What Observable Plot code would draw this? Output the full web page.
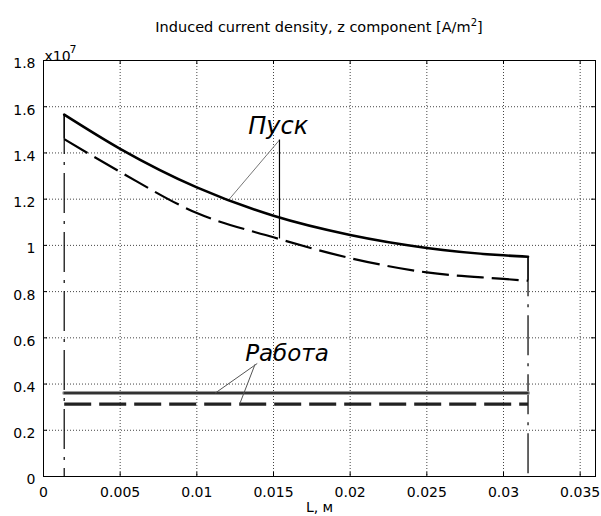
<!DOCTYPE html>
<html>
<head>
<meta charset="utf-8">
<script src="https://cdn.jsdelivr.net/npm/d3@7"></script>
<script src="https://cdn.jsdelivr.net/npm/@observablehq/plot@0.6"></script>
<style>
  body { margin: 0; background: #fff; }
  #wrap { width: 601px; height: 516px; background: #fff; }
  #title {
    box-sizing: border-box; width: 601px; height: 40px;
    padding-top: 19px; padding-left: 37px;
    font: 14.5px/16px "DejaVu Sans", sans-serif; color: #000;
    text-align: center; white-space: nowrap;
  }
  #title sup { font-size: 10px; vertical-align: 6px; line-height: 0; }
</style>
</head>
<body>
<div id="wrap">
  <div id="title">Induced current density, z component [A/m<sup>2</sup>]</div>
  <div id="chart"></div>
</div>
<script>
// ---- data (values in units of 1e7 A/m^2) ----
const L          = [0.00135, 0.005, 0.01, 0.015, 0.02, 0.025, 0.03, 0.0316];
const puskSolid  = [1.566, 1.418, 1.251, 1.128, 1.045, 0.989, 0.957, 0.951];
const puskDash   = [1.460, 1.318, 1.140, 1.035, 0.945, 0.883, 0.855, 0.847];
const rabotaL     = [0.00135, 0.0316];
const rabotaSolid = [0.361, 0.361];
const rabotaDash  = [0.313, 0.313];

const xTicks = [0, 0.005, 0.01, 0.015, 0.02, 0.025, 0.03, 0.035];
const xTickLabels = ["0", "0.005", "0.01", "0.015", "0.02", "0.025", "0.03", "0.035"];
const yTicks = [0, 0.2, 0.4, 0.6, 0.8, 1, 1.2, 1.4, 1.6, 1.8];
const yTickLabels = ["0", "0.2", "0.4", "0.6", "0.8", "1", "1.2", "1.4", "1.6", "1.8"];

// annotations
const labelPusk = "Пуск";
const labelRabota = "Работа";
const puskLabelPos = {x: 0.01531, y: 1.515};
const rabotaLabelPos = {x: 0.01588, y: 0.530};
const puskLeaders = [{x1: 0.01539, y1: 1.456, x2: 0.01213, y2: 1.201}];
const puskVertical = {x: 0.01539, y1: 1.456, y2: 1.028};
const rabotaLeaders = [
  {x1: 0.01394, y1: 0.489, x2: 0.0112, y2: 0.361},
  {x1: 0.01380, y1: 0.486, x2: 0.01279, y2: 0.313}
];
const xLabel = "L, м";
const yMultiplier = "x10";
const yExponent = "7";

const xDomain = [0, 0.036];
const yDomain = [0, 1.8];

const ends = [
  {x: L[0], top: puskSolid[0], mid: puskDash[0]},
  {x: L[L.length - 1], top: puskSolid[L.length - 1], mid: puskDash[L.length - 1]}
];

const fmtX = d => xTickLabels[xTicks.indexOf(d)];
const fmtY = d => yTickLabels[yTicks.indexOf(d)];

const plot = Plot.plot({
  width: 601,
  height: 476,
  marginTop: 20,
  marginBottom: 40,
  marginLeft: 43,
  marginRight: 6,
  style: {fontFamily: "DejaVu Sans, sans-serif", fontSize: "14px", color: "#000", background: "#fff"},
  x: {domain: xDomain},
  y: {domain: yDomain},
  marks: [
    Plot.gridX(xTicks.slice(1), {stroke: "#444", strokeOpacity: 1, strokeDasharray: "1,2"}),
    Plot.gridY(yTicks.slice(1, -1), {stroke: "#444", strokeOpacity: 1, strokeDasharray: "1,2"}),
    Plot.frame({stroke: "#000", strokeWidth: 1}),
    // inward ticks
    Plot.ruleX(xTicks, {x: d => d, y1: yDomain[0], y2: yDomain[0], insetBottom: 4, stroke: "#000"}),
    Plot.ruleX(xTicks, {x: d => d, y1: yDomain[1], y2: yDomain[1], insetTop: 4, stroke: "#000"}),
    Plot.ruleY(yTicks, {y: d => d, x1: xDomain[0], x2: xDomain[0], insetLeft: 4, stroke: "#000"}),
    Plot.ruleY(yTicks, {y: d => d, x1: xDomain[1], x2: xDomain[1], insetRight: 4, stroke: "#000"}),
    // boundary verticals (dash-dot) and solid closing parts
    Plot.ruleX(ends, {x: "x", y1: "top", y2: () => 0, stroke: "#000", strokeWidth: 1.2, strokeDasharray: "40,8,3,8"}),
    Plot.ruleX(ends, {x: "x", y1: "top", y2: "mid", stroke: "#000", strokeWidth: 1.2}),
    // Работа lines
    Plot.line(rabotaL, {x: rabotaL, y: rabotaSolid, stroke: "#9a9a9a", strokeWidth: 4}),
    Plot.line(rabotaL, {x: rabotaL, y: rabotaSolid, stroke: "#111", strokeWidth: 1.5}),
    Plot.line(rabotaL, {x: rabotaL, y: rabotaDash, stroke: "#222", strokeWidth: 3.2, strokeDasharray: "27,8", strokeLinecap: "butt"}),
    // Пуск curves
    Plot.line(L, {x: L, y: puskSolid, curve: "monotone-x", stroke: "#000", strokeWidth: 2.6}),
    Plot.line(L, {x: L, y: puskDash, curve: "monotone-x", stroke: "#000", strokeWidth: 2.2, strokeDasharray: "27,8", strokeLinecap: "butt"}),
    // leaders
    Plot.link(puskLeaders, {x1: "x1", y1: "y1", x2: "x2", y2: "y2", stroke: "#777", strokeWidth: 1}),
    Plot.ruleX([puskVertical], {x: "x", y1: "y1", y2: "y2", stroke: "#000", strokeWidth: 1.2}),
    Plot.link(rabotaLeaders, {x1: "x1", y1: "y1", x2: "x2", y2: "y2", stroke: "#555", strokeWidth: 1}),
    // annotation labels
    Plot.text([labelPusk], {x: () => puskLabelPos.x, y: () => puskLabelPos.y, text: d => d, fontSize: 24, fontStyle: "italic", fill: "#000", lineAnchor: "middle"}),
    Plot.text([labelRabota], {x: () => rabotaLabelPos.x, y: () => rabotaLabelPos.y, text: d => d, fontSize: 23, fontStyle: "italic", fill: "#000", lineAnchor: "middle"}),
    // axes
    Plot.axisX(xTicks, {tickSize: 0, tickPadding: 11, tickFormat: fmtX, fontSize: 14, label: null}),
    Plot.axisY(yTicks, {tickSize: 0, tickPadding: 8, tickFormat: fmtY, fontSize: 14, dy: 3.5, label: null}),
    Plot.text([xLabel], {frameAnchor: "bottom", dy: 31, lineAnchor: "middle", fontSize: 14, text: d => d}),
    Plot.text([yMultiplier], {frameAnchor: "top-left", textAnchor: "start", lineAnchor: "bottom", dx: 1, dy: 0, fontSize: 14, text: d => d}),
    Plot.text([yExponent], {frameAnchor: "top-left", textAnchor: "start", lineAnchor: "bottom", dx: 26, dy: -8, fontSize: 11, text: d => d})
  ]
});
document.getElementById("chart").appendChild(plot);
</script>
</body>
</html>
